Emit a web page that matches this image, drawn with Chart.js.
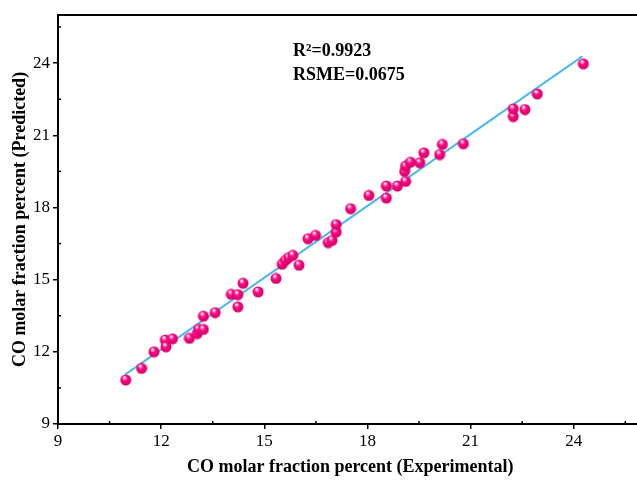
<!DOCTYPE html>
<html>
<head>
<meta charset="utf-8">
<script src="https://cdn.jsdelivr.net/npm/chart.js@4"></script>
<style>
  html, body { margin: 0; background: #fff; overflow: hidden; }
  #wrap { width: 637px; height: 481px; overflow: hidden; }
</style>
</head>
<body>
<!-- the original figure is cut on the right, so the canvas is a bit wider than the view -->
<div id="wrap"><canvas id="chart" width="649" height="481"></canvas></div>
<script>
// experimental vs predicted CO molar fraction (%)
const experimental = [10.97, 11.43, 11.79, 12.12, 12.14, 12.33, 12.82, 13.05, 13.09, 13.23,
    13.23, 13.57, 14.04, 14.23, 14.23, 14.38, 14.82, 15.34, 15.52, 15.61,
    15.71, 15.83, 16.01, 16.27, 16.49, 16.86, 16.97, 17.09, 17.09, 17.51,
    18.04, 18.55, 18.55, 18.87, 19.11, 19.08, 19.11, 19.25, 19.52, 19.64,
    20.10, 20.18, 20.79, 22.24, 22.24, 22.58, 22.94, 24.28];
const predicted = [10.83, 11.31, 12.00, 12.49, 12.21, 12.54, 12.56, 12.76, 12.93, 12.93,
    13.48, 13.63, 14.39, 14.38, 13.87, 14.85, 14.49, 15.05, 15.64, 15.80,
    15.92, 16.01, 15.60, 16.70, 16.84, 16.54, 16.63, 16.98, 17.29, 17.95,
    18.50, 18.89, 18.39, 18.89, 19.08, 19.50, 19.72, 19.88, 19.86, 20.27,
    20.20, 20.62, 20.65, 21.78, 22.10, 22.07, 22.72, 23.97];
const fitX = [10.95, 24.25];
const fitY = [11.05, 24.28];
const majorTicks = [9, 12, 15, 18, 21, 24];
const minorTicks = [10.5, 13.5, 16.5, 19.5, 22.5, 25.5];
const statLines = ['R\u00B2=0.9923', 'RSME=0.0675'];

const FONT = "'Liberation Serif', 'Times New Roman', serif";

// shaded ball used as the point marker
function makeBall(r) {
    const c = document.createElement('canvas');
    c.width = c.height = r * 2 + 1;
    const g = c.getContext('2d');
    const grad = g.createRadialGradient(r - 1, r - 2.2, 0.3, r, r, r);
    grad.addColorStop(0, '#ffffff');
    grad.addColorStop(0.18, '#ff9fd0');
    grad.addColorStop(0.45, '#ff0a84');
    grad.addColorStop(1, '#d60069');
    g.fillStyle = grad;
    g.beginPath();
    g.arc(r + 0.5, r + 0.5, r, 0, Math.PI * 2);
    g.fill();
    return c;
}
const ball = makeBall(5.5);

const framePlugin = {
    id: 'frame',
    afterDraw(chart) {
        const ctx = chart.ctx;
        const area = chart.chartArea;
        const xs = chart.scales.x, ys = chart.scales.y;
        ctx.save();
        ctx.strokeStyle = '#000';
        // top border
        ctx.lineWidth = 2;
        ctx.beginPath();
        ctx.moveTo(area.left - 1, area.top);
        ctx.lineTo(area.right, area.top);
        ctx.stroke();
        // minor ticks, inward
        ctx.lineWidth = 1.5;
        minorTicks.forEach(v => {
            const px = xs.getPixelForValue(v);
            ctx.beginPath();
            ctx.moveTo(px, area.bottom);
            ctx.lineTo(px, area.bottom - 3);
            ctx.stroke();
            const py = ys.getPixelForValue(v);
            ctx.beginPath();
            ctx.moveTo(area.left, py);
            ctx.lineTo(area.left + 3, py);
            ctx.stroke();
        });
        // stats text
        ctx.fillStyle = '#000';
        ctx.font = 'bold 18px ' + FONT;
        ctx.textBaseline = 'alphabetic';
        ctx.fillText(statLines[0], 293, 56);
        ctx.fillText(statLines[1], 293, 80);
        ctx.restore();
    }
};

new Chart(document.getElementById('chart'), {
    type: 'scatter',
    data: {
        datasets: [
            {
                label: 'Data',
                data: experimental.map((x, i) => ({ x: x, y: predicted[i] })),
                pointStyle: ball,
                pointRadius: 5.5,
                pointHoverRadius: 5.5
            },
            {
                label: 'Fit',
                data: fitX.map((x, i) => ({ x: x, y: fitY[i] })),
                showLine: true,
                borderColor: '#4db8f2',
                borderWidth: 2,
                pointRadius: 0
            }
        ]
    },
    options: {
        responsive: false,
        animation: false,
        layout: { padding: { top: 15, right: 0, left: 0, bottom: 0 } },
        plugins: {
            legend: { display: false },
            tooltip: { enabled: false }
        },
        scales: {
            x: {
                type: 'linear',
                min: 9,
                max: 26,
                afterBuildTicks: s => { s.ticks = majorTicks.map(v => ({ value: v })); },
                afterFit: s => { s.height = 57; },
                border: { display: true, color: '#000', width: 2 },
                grid: { drawOnChartArea: false, color: '#000', tickLength: 5, lineWidth: 1.5 },
                ticks: { color: '#000', font: { family: FONT, size: 17 }, padding: 2, maxRotation: 0 },
                title: {
                    display: true,
                    text: 'CO molar fraction percent (Experimental)',
                    color: '#000',
                    font: { family: FONT, size: 18, weight: 'bold' },
                    padding: { top: 0, bottom: 3 }
                }
            },
            y: {
                type: 'linear',
                min: 9,
                max: 26,
                afterBuildTicks: s => { s.ticks = majorTicks.map(v => ({ value: v })); },
                afterFit: s => { s.width = 58; },
                border: { display: true, color: '#000', width: 2 },
                grid: { drawOnChartArea: false, color: '#000', tickLength: 5, lineWidth: 1.5 },
                ticks: { color: '#000', font: { family: FONT, size: 17 }, padding: 3 },
                title: {
                    display: true,
                    text: 'CO molar fraction percent (Predicted)',
                    color: '#000',
                    font: { family: FONT, size: 18, weight: 'bold' },
                    padding: { top: 10, bottom: 0 }
                }
            }
        }
    },
    plugins: [framePlugin]
});
</script>
</body>
</html>
